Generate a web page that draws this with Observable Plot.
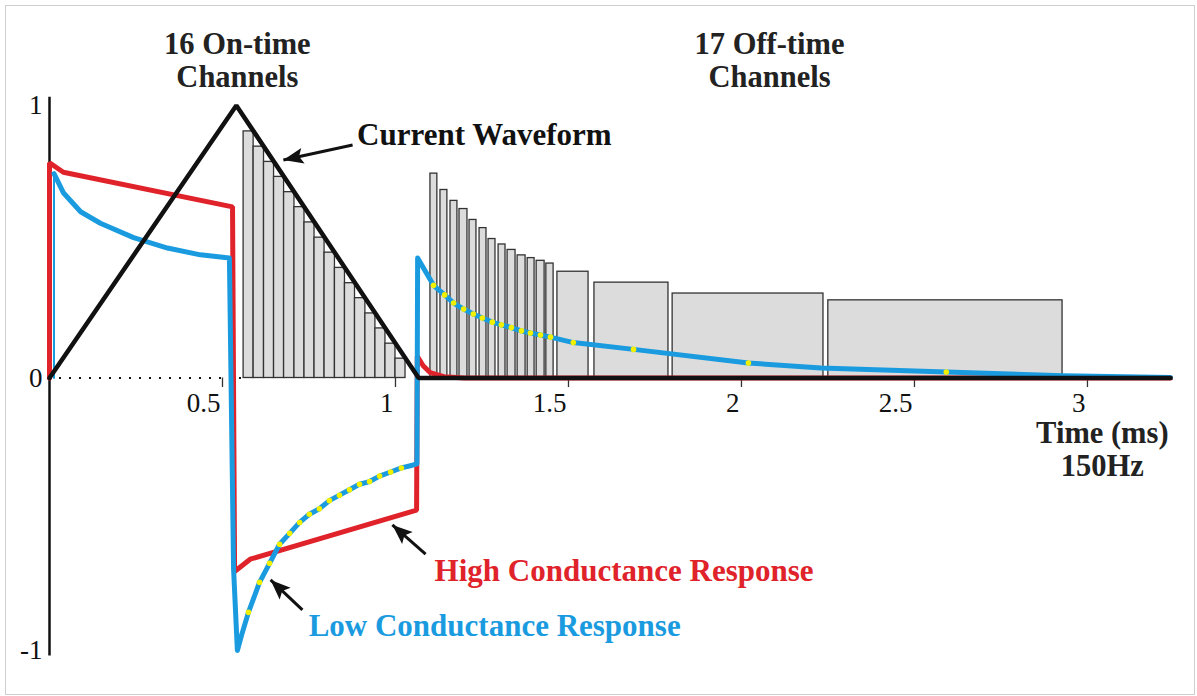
<!DOCTYPE html>
<html>
<head>
<meta charset="utf-8">
<script src="https://cdn.jsdelivr.net/npm/d3@7"></script>
<script src="https://cdn.jsdelivr.net/npm/@observablehq/plot@0.6"></script>
<style>
  html, body { margin: 0; padding: 0; background: #fff; }
  #frame { position: absolute; left: 5px; top: 5px; width: 1190px; height: 690px; border: 1px solid #cfcfcf; box-sizing: border-box; pointer-events: none; }
  #chart { position: absolute; left: 0; top: 0; }
</style>
</head>
<body>
<div id="chart"></div>
<div id="frame"></div>
<script>
// ---- Current waveform (normalised) ----
const waveT = [0, 0.54, 1.067, 3.24];
const waveV = [0, 1, 0, 0];

// ---- High conductance response ----
const highT = [0, 0, 0.04, 0.529, 0.535, 0.58, 1.061, 1.063, 1.08, 1.10, 1.14, 1.20, 3.24];
const highV = [0, 0.79, 0.755, 0.628, -0.71, -0.665, -0.485, 0.08, 0.045, 0.02, 0.005, 0, 0];

// ---- Low conductance response ----
const lowStartT = [0.013, 0.013];
const lowStartV = [0, 0.75];
const lowT = [0.013, 0.04, 0.09, 0.147, 0.243, 0.341, 0.436, 0.52, 0.532, 0.543, 0.556,
  0.575, 0.607, 0.636, 0.665, 0.694, 0.723, 0.751, 0.780, 0.809, 0.838, 0.867, 0.896, 0.925, 0.954, 0.986, 1.017,
  1.049, 1.062, 1.064,
  1.110, 1.142, 1.168, 1.197, 1.225, 1.251, 1.280, 1.306, 1.335, 1.364, 1.390, 1.419, 1.448, 1.514, 1.688, 2.020,
  2.23, 2.592, 2.93, 3.24];
const lowV = [0.75, 0.68, 0.61, 0.568, 0.515, 0.477, 0.452, 0.44, -0.70, -1.0, -0.94,
  -0.86, -0.75, -0.68, -0.61, -0.57, -0.53, -0.50, -0.48, -0.45, -0.43, -0.41, -0.39, -0.38, -0.36, -0.345, -0.33,
  -0.32, -0.315, 0.44,
  0.34, 0.305, 0.275, 0.253, 0.235, 0.22, 0.205, 0.195, 0.185, 0.173, 0.165, 0.158, 0.15, 0.13, 0.105, 0.055,
  0.037, 0.022, 0.008, 0.002];

// ---- Channel sample points (yellow dots on the low conductance curve) ----
const dotT = [0.575, 0.607, 0.636, 0.665, 0.694, 0.723, 0.751, 0.780, 0.809, 0.838, 0.867, 0.896, 0.925, 0.954, 0.986, 1.017,
  1.110, 1.142, 1.168, 1.197, 1.225, 1.251, 1.280, 1.306, 1.335, 1.364, 1.390, 1.419, 1.448, 1.514, 1.688, 2.020, 2.592];
const dotV = [-0.86, -0.75, -0.68, -0.61, -0.57, -0.53, -0.50, -0.48, -0.45, -0.43, -0.41, -0.39, -0.38, -0.36, -0.345, -0.33,
  0.34, 0.305, 0.275, 0.253, 0.235, 0.22, 0.205, 0.195, 0.185, 0.173, 0.165, 0.158, 0.15, 0.13, 0.105, 0.055, 0.022];

// ---- 16 on-time channel windows ----
const onStart = [0.561, 0.590, 0.620, 0.649, 0.678, 0.708, 0.737, 0.766, 0.795, 0.825, 0.854, 0.883, 0.913, 0.942, 0.971, 1.000];
const onEnd   = [0.590, 0.620, 0.649, 0.678, 0.708, 0.737, 0.766, 0.795, 0.825, 0.854, 0.883, 0.913, 0.942, 0.971, 1.000, 1.029];
const onHeight = [0.905, 0.849, 0.793, 0.738, 0.682, 0.627, 0.571, 0.515, 0.460, 0.404, 0.348, 0.293, 0.237, 0.182, 0.126, 0.071];

// ---- 17 off-time channel windows ----
const offStart = [1.101, 1.130, 1.159, 1.185, 1.214, 1.243, 1.269, 1.298, 1.324, 1.353, 1.382, 1.408, 1.436, 1.468, 1.575, 1.801, 2.251];
const offEnd   = [1.121, 1.150, 1.179, 1.208, 1.234, 1.263, 1.289, 1.318, 1.347, 1.376, 1.402, 1.431, 1.457, 1.558, 1.789, 2.237, 2.928];
const offHeight = [0.75, 0.69, 0.65, 0.62, 0.58, 0.55, 0.51, 0.49, 0.47, 0.45, 0.44, 0.43, 0.42, 0.39, 0.35, 0.31, 0.285];

// ---- Axes ----
const xTicks = [0.5, 1, 1.5, 2, 2.5, 3];
const yTicks = [-1, 0, 1];

// ---- Annotations ----
const titleText = ["16 On-time", "Channels", "17 Off-time", "Channels"];
const titleT = [0.543, 0.543, 2.081, 2.081];
const titleV = [1.226, 1.105, 1.226, 1.105];

const labelText = ["Current Waveform", "High Conductance Response", "Low Conductance Response"];
const labelT = [0.889, 1.113, 0.749];
const labelV = [0.892, -0.708, -0.910];
const labelColor = ["#111111", "#e0232a", "#1a9be0"];

const axisTitleText = ["Time (ms)", "150Hz"];
const axisTitleT = [3.043, 3.043];
const axisTitleV = [-0.203, -0.322];

// arrow tails (T1,V1) and tips (T2,V2)
const arrowT1 = [0.876, 1.087, 0.731];
const arrowV1 = [0.855, -0.646, -0.851];
const arrowT2 = [0.676, 0.991, 0.639];
const arrowV2 = [0.800, -0.539, -0.741];

// ---- layout ----
const W = 1197, H = 696, ML = 49, MR = 27, MT = 105, MB = 46;
const XD = [0, 3.24], YD = [-1, 1];
const kx = (W - ML - MR) / (XD[1] - XD[0]);
const ky = (H - MT - MB) / (YD[1] - YD[0]);

// ---- build tables ----
const tbl = (ts, vs) => ts.map((t, i) => ({t, v: vs[i]}));
const wave = tbl(waveT, waveV);
const high = tbl(highT, highV);
const low = tbl(lowT, lowV);
const lowStart = tbl(lowStartT, lowStartV);
const dots = tbl(dotT, dotV);
const onBars = onStart.map((s, i) => ({s, e: onEnd[i], h: onHeight[i]}));
const offBars = offStart.map((s, i) => ({s, e: offEnd[i], h: offHeight[i]}));
const titles = titleText.map((text, i) => ({text, t: titleT[i], v: titleV[i]}));
const labels = labelText.map((text, i) => ({text, t: labelT[i], v: labelV[i], c: labelColor[i]}));
const axisTitles = axisTitleText.map((text, i) => ({text, t: axisTitleT[i], v: axisTitleV[i]}));
const arrows = arrowT1.map((t1, i) => {
  const t2 = arrowT2[i], v2 = arrowV2[i], v1 = arrowV1[i];
  const dx = (t2 - t1) * kx, dy = -(v2 - v1) * ky;
  return {t1, v1, t2, v2, angle: Math.atan2(dx, -dy) * 180 / Math.PI};
});

// filled arrow-head symbol: tip at origin, pointing up
const headSymbol = {
  draw(context) {
    context.moveTo(0, 0);
    context.lineTo(-8, 20);
    context.lineTo(0, 16);
    context.lineTo(8, 20);
    context.closePath();
  }
};

const RED = "#e0232a", BLUE = "#1a9be0", BLACK = "#111111";
const SERIF = "Liberation Serif";

const chart = Plot.plot({
  width: W,
  height: H,
  marginLeft: ML,
  marginRight: MR,
  marginTop: MT,
  marginBottom: MB,
  x: {domain: XD, axis: null},
  y: {domain: YD, axis: null},
  style: {fontFamily: SERIF, background: "transparent", overflow: "visible"},
  marks: [
    // channel windows
    Plot.rect(onBars, {x1: "s", x2: "e", y1: 0, y2: "h", fill: "#dcdcdc", stroke: "#333", strokeWidth: 1.3}),
    Plot.rect(offBars, {x1: "s", x2: "e", y1: 0, y2: "h", fill: "#dcdcdc", stroke: "#333", strokeWidth: 1.3}),
    // dotted zero line
    Plot.ruleY([0], {x1: 0, x2: 0.56, stroke: BLACK, strokeWidth: 2, strokeDasharray: "2,8"}),
    // y axis
    Plot.ruleX([0], {y1: -1.02, y2: 1.03, stroke: BLACK, strokeWidth: 2.5}),
    // x ticks
    Plot.ruleX(xTicks, {x: d => d, y1: 0, y2: -0.035, stroke: "#333", strokeWidth: 1.3}),
    Plot.text(xTicks, {x: d => d, y: 0, text: d => String(d), textAnchor: "end", dx: -2, dy: 25, fontSize: 27, fontFamily: SERIF, fill: BLACK}),
    Plot.text(yTicks, {x: 0, y: d => d, text: d => String(d), textAnchor: "end", dx: -7, fontSize: 27, fontFamily: SERIF, fill: BLACK}),
    // responses
    Plot.line(lowStart, {x: "t", y: "v", stroke: BLUE, strokeWidth: 2}),
    Plot.line(high, {x: "t", y: "v", stroke: RED, strokeWidth: 5, strokeLinejoin: "miter"}),
    Plot.line(low, {x: "t", y: "v", stroke: BLUE, strokeWidth: 5, strokeLinejoin: "round"}),
    Plot.line(wave, {x: "t", y: "v", stroke: BLACK, strokeWidth: 4.5, strokeLinejoin: "miter"}),
    Plot.dot(dots, {x: "t", y: "v", r: 2.8, fill: "#f0f000", stroke: null}),
    // annotation arrows
    Plot.link(arrows, {x1: "t1", y1: "v1", x2: "t2", y2: "v2", stroke: BLACK, strokeWidth: 3}),
    Plot.dot(arrows, {x: "t2", y: "v2", symbol: headSymbol, rotate: "angle", fill: BLACK, stroke: null}),
    // texts
    Plot.text(titles, {x: "t", y: "v", text: "text", fontSize: 30.5, fontWeight: "bold", fontFamily: SERIF, fill: "#222", textAnchor: "middle"}),
    Plot.text(labels, {x: "t", y: "v", text: "text", fontSize: 31, fontWeight: "bold", fontFamily: SERIF, fill: "c", textAnchor: "start"}),
    Plot.text(axisTitles, {x: "t", y: "v", text: "text", fontSize: 30.5, fontWeight: "bold", fontFamily: SERIF, fill: "#222", textAnchor: "middle"})
  ]
});
document.getElementById("chart").appendChild(chart);
</script>
</body>
</html>
